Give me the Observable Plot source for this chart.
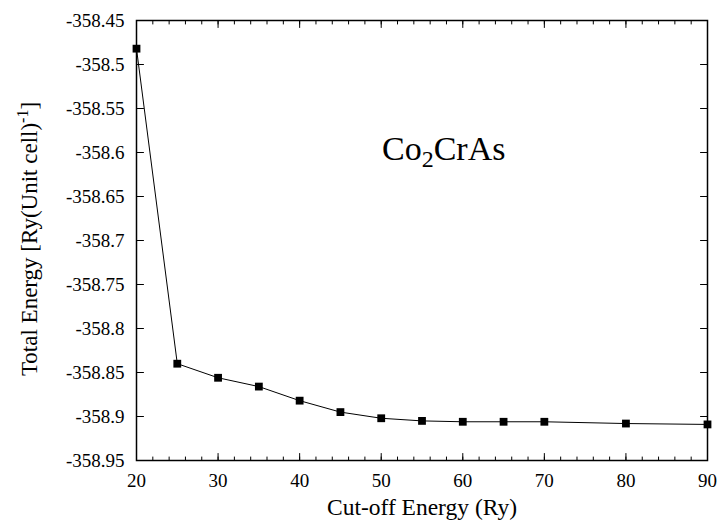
<!DOCTYPE html>
<html>
<head>
<meta charset="utf-8">
<script src="https://cdn.jsdelivr.net/npm/d3@7"></script>
<script src="https://cdn.jsdelivr.net/npm/@observablehq/plot@0.6"></script>
<style>
  html, body { margin: 0; padding: 0; background: #fff; }
  #chart { width: 725px; height: 524px; }
  #chart svg text, #chart svg tspan { font-family: "Liberation Serif" !important; }
</style>
</head>
<body>
<div id="chart"></div>
<script>
// Data
const cutoff = [20, 25, 30, 35, 40, 45, 50, 55, 60, 65, 70, 80, 90];
const energy = [-358.482, -358.840, -358.856, -358.866, -358.882, -358.895, -358.902, -358.905, -358.906, -358.906, -358.906, -358.908, -358.909];
const xTicks = [20, 30, 40, 50, 60, 70, 80, 90];
const xMinorTicks = d3.range(20, 91, 2);
const yTicks = [-358.95, -358.9, -358.85, -358.8, -358.75, -358.7, -358.65, -358.6, -358.55, -358.5, -358.45];
const xLabel = "Cut-off Energy (Ry)";
const yLabelMain = "Total Energy [Ry(Unit cell)";
const yLabelSup = "-1";
const compound = ["Co", "2", "CrAs"];

const data = cutoff.map((c, i) => ({c, e: energy[i]}));
const fmt = d => String(+(+d).toFixed(2));
const FONT = "Liberation Serif";

// simple line shape for inward tick marks
const tickShape = {draw(context, l) { context.moveTo(0, 0); context.lineTo(0, -l); }};
const inTicks = (values, ch, frameAnchor, rotate, length) =>
  Plot.vector(values, {[ch]: d => d, frameAnchor, rotate, length, anchor: "start",
    shape: tickShape, stroke: "black", strokeWidth: 1});

const plot = Plot.plot({
  width: 725,
  height: 524,
  marginLeft: 136,
  marginRight: 18,
  marginTop: 20,
  marginBottom: 64,
  style: {background: "white", color: "black"},
  x: {domain: [20, 90]},
  y: {domain: [-358.95, -358.45]},
  marks: [
    Plot.axisX(xTicks, {anchor: "bottom", tickSize: 0, tickPadding: 13, tickFormat: fmt, label: null, fontSize: 19, fontFamily: FONT}),
    Plot.axisY(yTicks, {anchor: "left", tickSize: 0, tickPadding: 12, tickFormat: fmt, label: null, fontSize: 19, fontFamily: FONT}),
    inTicks(xTicks, "x", "bottom", 0, 7),
    inTicks(xMinorTicks, "x", "bottom", 0, 3.5),
    inTicks(xTicks, "x", "top", 180, 7),
    inTicks(xMinorTicks, "x", "top", 180, 3.5),
    inTicks(yTicks, "y", "left", 90, 7),
    inTicks(yTicks, "y", "right", -90, 7),
    Plot.frame({stroke: "black", strokeWidth: 1.5}),
    Plot.line(data, {x: "c", y: "e", stroke: "black", strokeWidth: 1}),
    Plot.dot(data, {x: "c", y: "e", symbol: "square", r: 4.4, fill: "black", stroke: "none"})
  ]
});

const svg = d3.select(plot).attr("font-family", FONT);
// x axis title
svg.append("text")
  .attr("x", 422).attr("y", 515)
  .attr("text-anchor", "middle")
  .attr("font-size", 23.5).attr("fill", "black")
  .text(xLabel);
// y axis title with superscript
const yt = svg.append("text")
  .attr("transform", "translate(37,239) rotate(-90)")
  .attr("text-anchor", "start")
  .attr("font-size", 23).attr("fill", "black");
yt.append("tspan").text(yLabelMain);
yt.append("tspan").attr("dy", -9).attr("font-size", 16).text(yLabelSup);
yt.append("tspan").attr("dy", 9).text("]");
// compound annotation
const ct = svg.append("text")
  .attr("x", 382).attr("y", 160)
  .attr("text-anchor", "start")
  .attr("font-size", 34).attr("fill", "black");
ct.append("tspan").text(compound[0]);
ct.append("tspan").attr("dy", "0.28em").attr("font-size", 24).text(compound[1]);
ct.append("tspan").attr("dy", "-0.2em").text(compound[2]);
svg.selectAll("text").attr("font-family", FONT).style("font-family", FONT);

document.getElementById("chart").appendChild(plot);
// center the rotated y title along the axis
const w = yt.node().getBBox().width;
yt.attr("x", -w / 2);
</script>
</body>
</html>
